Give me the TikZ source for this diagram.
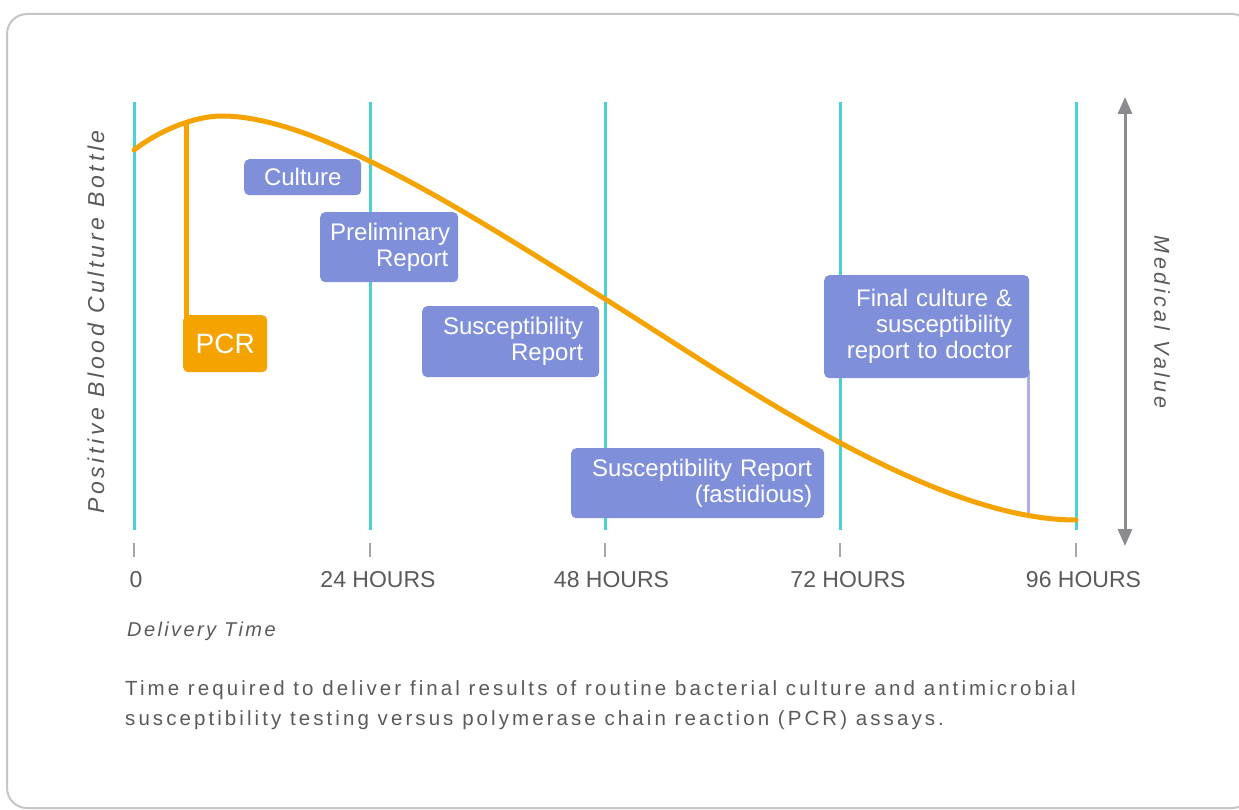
\documentclass[tikz,border=0pt]{standalone}
\usepackage{fontspec}
\setmainfont{Liberation Sans}
\usetikzlibrary{arrows.meta}

\definecolor{gridcyan}{HTML}{4CD0D8}
\definecolor{curveorange}{HTML}{F5A300}
\definecolor{boxblue}{HTML}{7F8FD9}
\definecolor{linkblue}{HTML}{A8B2E6}
\definecolor{axisgray}{HTML}{8A8B8F}
\definecolor{labelgray}{HTML}{5A5A5A}
\definecolor{framegray}{HTML}{C6C6C6}

\begin{document}
\begin{tikzpicture}[x=1pt, y=-1pt,
  gridline/.style={gridcyan, line width=3pt},
  tickmark/.style={black!35, line width=2pt},
  ticklabel/.style={anchor=base, inner sep=0pt, text=labelgray,
    font=\fontsize{23}{26}\selectfont},
  stagebox/.style={anchor=north west, fill=boxblue, rounded corners=5pt,
    text=white, inner ysep=0pt, align=right,
    font=\fontsize{24}{26}\selectfont},
  pcrbox/.style={anchor=north west, fill=curveorange, rounded corners=5pt,
    text=white, inner sep=0pt, font=\fontsize{28}{30}\selectfont},
  curveline/.style={curveorange, line width=5pt, line cap=round},
  captiontext/.style={anchor=base west, inner sep=0pt, text=labelgray,
    font=\fontsize{20.5}{30}\selectfont\addfontfeatures{LetterSpace=15}},
  axistitle/.style={inner sep=0pt, text=labelgray},
]
\useasboundingbox (0,0) rectangle (1239,810);
\fill[white] (0,0) rectangle (1239,810);

% outer frame, running off the right edge
\begin{scope}
  \clip (0,0) rectangle (1239,810);
  \draw[framegray, line width=2pt, rounded corners=20pt] (7,14) rectangle (1252,808);
\end{scope}

% time grid
\foreach \tx in {134,370,605,840,1076} {
  \draw[gridline] (\tx,102) -- (\tx,530);
  \draw[tickmark] (\tx,543) -- (\tx,557);
}

% tick labels
\node[ticklabel] (t0)  at (136,587)    {0};
\node[ticklabel] (t24) at (378,587)    {24 HOURS};
\node[ticklabel] (t48) at (611.5,587)  {48 HOURS};
\node[ticklabel] (t72) at (848,587)    {72 HOURS};
\node[ticklabel] (t96) at (1083.5,587) {96 HOURS};

% axis titles
\node[axistitle, anchor=base west,
  font=\fontsize{20}{24}\selectfont\itshape\addfontfeatures{LetterSpace=12}]
  (delivery) at (127,636) {Delivery Time};
\node[axistitle, rotate=90,
  font=\fontsize{23}{26}\selectfont\itshape\addfontfeatures{LetterSpace=16}]
  (bottle) at (96,322) {Positive Blood Culture Bottle};
\node[axistitle, rotate=-90,
  font=\fontsize{21.5}{24}\selectfont\itshape\addfontfeatures{LetterSpace=16}]
  (medical) at (1162,322) {Medical Value};

% medical value axis
\coordinate (mvtop) at (1125,97);
\coordinate (mvbot) at (1125,546);
\draw[axisgray, line width=3pt,
  {Triangle[width=14pt,length=17pt]}-{Triangle[width=14pt,length=17pt]}]
  (mvtop) -- (mvbot);

% caption
\node[captiontext] (cap1) at (125,695)
  {Time required to deliver final results of routine bacterial culture and antimicrobial};
\node[captiontext] (cap2) at (125,725)
  {susceptibility testing versus polymerase chain reaction (PCR) assays.};

% PCR result box and its drop line
\coordinate (pcrjoin) at (186,122);
\node[pcrbox, minimum width=84pt, minimum height=57pt] (pcr) at (183,315) {PCR};
\draw[curveline, line cap=butt] (pcrjoin) -- (pcrjoin |- pcr.center);

% final report drop line
\coordinate (finaljoin) at (1028,514);

% stage boxes
\node[stagebox, inner xsep=0pt, align=center, minimum width=117pt, minimum height=36pt]
  (culture) at (244,159) {Culture};
\node[stagebox, inner xsep=10pt, text width=118pt, minimum height=70pt]
  (prelim) at (320,212) {Preliminary\\Report};
\node[stagebox, inner xsep=16pt, text width=145pt, minimum height=71pt]
  (suscept) at (422,306) {Susceptibility\\Report};
\node[stagebox, inner xsep=12pt, text width=229pt, minimum height=70pt]
  (fastid) at (571,448) {Susceptibility Report\\(fastidious)};
\draw[linkblue, line width=3pt] (finaljoin |- 0,370) -- (finaljoin);
\node[stagebox, inner xsep=17pt, text width=171pt, minimum height=103pt]
  (final) at (824,275) {Final culture \&\\susceptibility\\report to doctor};

% medical value curve
\draw[curveline]
  (134,150) .. controls (160,130) and (195,116) .. (222,116)
            .. controls (320,116) and (480,221) .. (605,299)
            .. controls (730,377) and (930,520) .. (1076,520);
\end{tikzpicture}
\end{document}
